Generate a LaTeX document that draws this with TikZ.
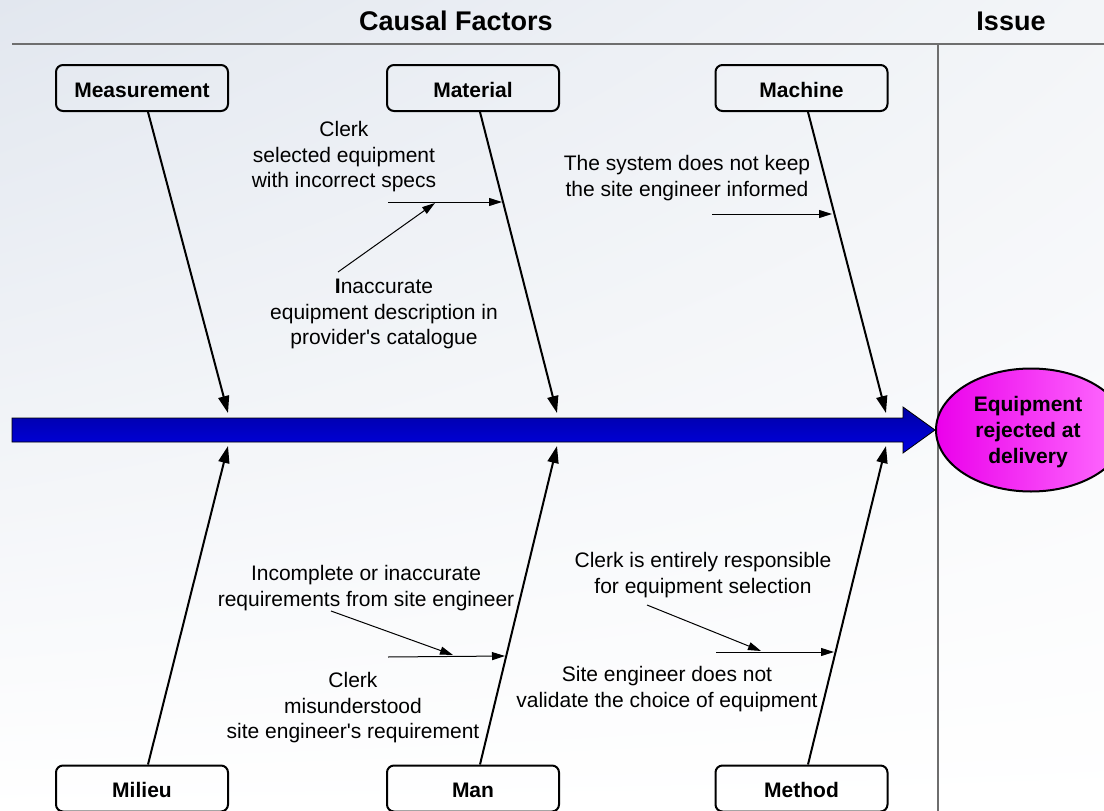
\documentclass[tikz,border=0pt]{standalone}
\usepackage{fontspec}
\setmainfont{Liberation Sans}
\usetikzlibrary{arrows.meta,shapes.geometric,shadings}
\definecolor{bgtl}{RGB}{226,231,239}
\definecolor{bgtr}{RGB}{243,245,248}
\definecolor{rulegray}{RGB}{110,110,110}
\definecolor{spinetop}{RGB}{0,0,165}
\definecolor{spinebot}{RGB}{0,0,225}
\definecolor{magA}{RGB}{235,0,235}
\definecolor{magB}{RGB}{255,110,255}
\tikzset{
  catbox/.style={draw, line width=2pt, rounded corners=7pt, minimum width=172pt, minimum height=46pt, inner sep=0pt, text height=18pt, text depth=0pt, font=\fontsize{21}{24}\selectfont\bfseries},
  bone/.style={line width=2pt, -{Triangle[length=17pt,width=11pt]}},
  subarrow/.style={line width=1pt, -{Triangle[length=13pt,width=8pt]}},
  lbl/.style={align=center, inner sep=0pt, font=\fontsize{21}{25.5}\selectfont},
  hdr/.style={inner sep=0pt, font=\fontsize{27}{30}\selectfont\bfseries},
  issue/.style={ellipse, draw, line width=2pt, minimum width=190pt, minimum height=123pt, left color=magA, right color=magB}
}
\begin{document}
\begin{tikzpicture}[x=1pt,y=-1pt]
\clip (0,0) rectangle (1104,811);
\shade[upper left=bgtl, upper right=bgtr, lower left=white, lower right=white] (0,0) rectangle (1104,811);
% header
\node[hdr] (hcf) at (456,21) {Causal Factors};
\node[hdr] (hiss) at (1011,21) {Issue};
\coordinate (hl1) at (12,44);
\coordinate (hl2) at (1104,44);
\coordinate (vl1) at (938,44);
\coordinate (vl2) at (938,811);
\draw[rulegray, line width=2.5pt] (hl1) -- (hl2);
\draw[rulegray, line width=2.5pt] (vl1) -- (vl2);
% spine
\shade[top color=spinetop, bottom color=spinebot, draw=black, line width=0.8pt]
  (12,418) -- (903,418) -- (903,407) -- (935,430) -- (903,453) -- (903,442) -- (12,442) -- cycle;
% issue
\node[issue] (eff) at (1031,430) {};
\node[align=center, inner sep=0pt, font=\fontsize{21}{26}\selectfont\bfseries] (efft) at (1028,432) {Equipment\\rejected at\\delivery};
% category boxes
\node[catbox] (meas) at (142,88) {Measurement};
\node[catbox] (mat) at (473,88) {Material};
\node[catbox] (mach) at (801.5,88) {Machine};
\node[catbox] (mil) at (142,788.5) {Milieu};
\node[catbox] (man) at (473,788.5) {Man};
\node[catbox] (meth) at (801.5,788.5) {Method};
% bone tips
\coordinate (t1) at (228,413);
\coordinate (t2) at (557,413);
\coordinate (t3) at (886,413);
\coordinate (b1) at (228,446);
\coordinate (b2) at (557,446);
\coordinate (b3) at (886,446);
\draw[bone] ([xshift=6pt]meas.south) -- (t1);
\draw[bone] ([xshift=7pt]mat.south) -- (t2);
\draw[bone] ([xshift=6.5pt]mach.south) -- (t3);
\draw[bone] ([xshift=6pt]mil.north) -- (b1);
\draw[bone] ([xshift=7pt]man.north) -- (b2);
\draw[bone] ([xshift=6.5pt]meth.north) -- (b3);
% labels
\node[lbl] (l1) at (344,157) {Clerk\\selected equipment\\with incorrect specs};
\node[lbl] (l2) at (384,314) {\textbf{I}naccurate\\equipment description in\\provider\textquotesingle s catalogue};
\node[lbl] (l3) at (687,178) {The system does not keep\\the site engineer informed};
\node[lbl] (l4) at (366,588) {Incomplete or inaccurate\\requirements from site engineer};
\node[lbl] (l5) at (353,708) {Clerk\\misunderstood\\site engineer\textquotesingle s requirement};
\node[lbl] (l6) at (703,575) {Clerk is entirely responsible\\for equipment selection};
\node[lbl] (l7) at (667,689) {Site engineer does not\\validate the choice of equipment};
% sub-arrows
\coordinate (a1s) at (388,202);
\coordinate (a1e) at (502,202);
\coordinate (a2s) at (338,272);
\coordinate (a2e) at (435,203);
\coordinate (a3s) at (712,214);
\coordinate (a3e) at (832,214);
\coordinate (a4s) at (388,657);
\coordinate (a4e) at (505,656);
\coordinate (a5s) at (331,611);
\coordinate (a5e) at (453,655);
\coordinate (a6s) at (716,652);
\coordinate (a6e) at (834,652);
\coordinate (a7s) at (647,605);
\coordinate (a7e) at (761,651);
\draw[subarrow] (a1s) -- (a1e);
\draw[subarrow] (a2s) -- (a2e);
\draw[subarrow] (a3s) -- (a3e);
\draw[subarrow] (a4s) -- (a4e);
\draw[subarrow] (a5s) -- (a5e);
\draw[subarrow] (a6s) -- (a6e);
\draw[subarrow] (a7s) -- (a7e);
\end{tikzpicture}
\end{document}
